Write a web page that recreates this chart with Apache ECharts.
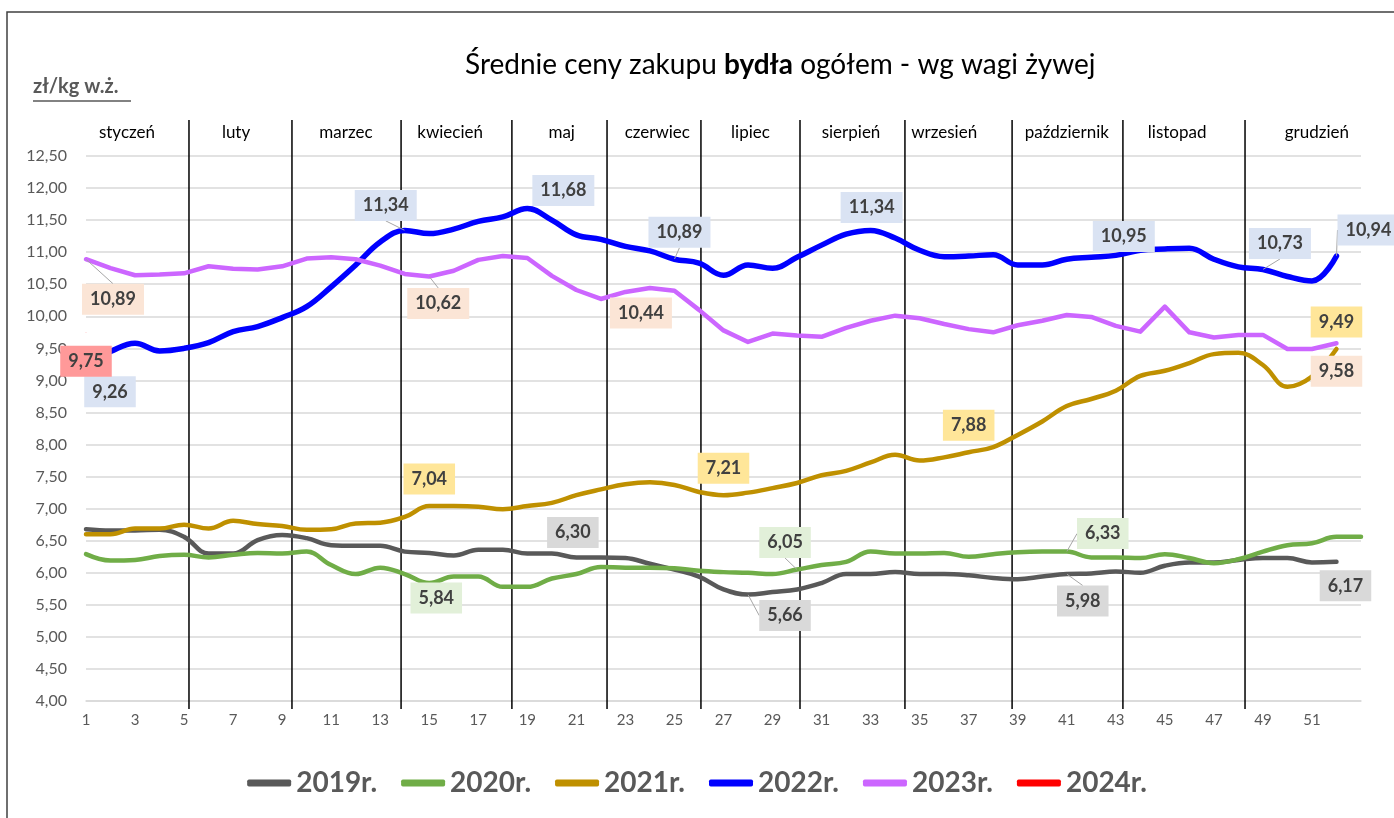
<!DOCTYPE html>
<html>
<head>
<meta charset="utf-8">
<title>Średnie ceny zakupu bydła</title>
<script src="https://cdn.jsdelivr.net/npm/echarts@6/dist/echarts.min.js"></script>
<style>
  html, body { margin: 0; padding: 0; background: #fff; }
  #chart { width: 1394px; height: 818px; }
</style>
</head>
<body>
<div id="chart"></div>
<script>
// tygodnie roku
let weeks = [1, 2, 3, 4, 5, 6, 7, 8, 9, 10, 11, 12, 13, 14, 15, 16, 17, 18, 19, 20,
             21, 22, 23, 24, 25, 26, 27, 28, 29, 30, 31, 32, 33, 34, 35, 36, 37, 38, 39, 40,
             41, 42, 43, 44, 45, 46, 47, 48, 49, 50, 51, 52, 53];

// ceny zł/kg w.ż.
let y2019 = [6.68, 6.66, 6.66, 6.67, 6.56, 6.30, 6.30, 6.51, 6.59, 6.54, 6.43, 6.42, 6.42, 6.33, 6.31, 6.27, 6.36,
             6.36, 6.30, 6.30, 6.24, 6.24, 6.23, 6.14, 6.05, 5.94, 5.74, 5.66, 5.70, 5.74, 5.84, 5.98, 5.98, 6.01,
             5.98, 5.98, 5.96, 5.92, 5.90, 5.94, 5.98, 5.99, 6.02, 6.00, 6.11, 6.16, 6.16, 6.20, 6.23, 6.23, 6.16, 6.17];
let y2020 = [6.29, 6.19, 6.20, 6.26, 6.28, 6.24, 6.28, 6.31, 6.30, 6.33, 6.12, 5.98, 6.08, 5.98, 5.84, 5.94, 5.94,
             5.78, 5.78, 5.91, 5.98, 6.09, 6.08, 6.08, 6.07, 6.03, 6.01, 6.00, 5.98, 6.05, 6.12, 6.17, 6.33, 6.30,
             6.30, 6.31, 6.25, 6.29, 6.32, 6.33, 6.33, 6.24, 6.24, 6.23, 6.29, 6.23, 6.15, 6.21, 6.33, 6.43, 6.46,
             6.56, 6.56];
let y2021 = [6.60, 6.60, 6.69, 6.69, 6.75, 6.69, 6.81, 6.76, 6.73, 6.67, 6.68, 6.77, 6.78, 6.87, 7.04, 7.04, 7.03,
             6.99, 7.04, 7.09, 7.21, 7.30, 7.38, 7.41, 7.37, 7.26, 7.21, 7.25, 7.32, 7.40, 7.52, 7.59, 7.72, 7.84,
             7.75, 7.80, 7.88, 7.96, 8.15, 8.36, 8.60, 8.71, 8.84, 9.07, 9.15, 9.27, 9.41, 9.43, 9.24, 8.90, 9.06, 9.49];
let y2022 = [9.26, 9.45, 9.58, 9.46, 9.50, 9.59, 9.76, 9.84, 9.98, 10.15, 10.46, 10.80, 11.16, 11.34, 11.29, 11.36,
             11.48, 11.55, 11.68, 11.50, 11.27, 11.20, 11.09, 11.02, 10.89, 10.83, 10.64, 10.80, 10.75, 10.92, 11.11,
             11.28, 11.34, 11.22, 11.03, 10.93, 10.94, 10.96, 10.80, 10.80, 10.89, 10.92, 10.95, 11.03, 11.05, 11.06,
             10.89, 10.77, 10.73, 10.62, 10.55, 10.94];
let y2023 = [10.89, 10.75, 10.64, 10.65, 10.67, 10.78, 10.74, 10.73, 10.78, 10.90, 10.92, 10.89, 10.79, 10.66, 10.62,
             10.71, 10.88, 10.94, 10.91, 10.63, 10.41, 10.27, 10.38, 10.44, 10.40, 10.10, 9.78, 9.60, 9.73, 9.70, 9.68,
             9.82, 9.93, 10.01, 9.97, 9.88, 9.80, 9.75, 9.86, 9.93, 10.02, 9.99, 9.85, 9.76, 10.15, 9.75, 9.67, 9.71,
             9.71, 9.49, 9.49, 9.58];
let y2024 = [9.75];

let seriesNames = ['2019r.', '2020r.', '2021r.', '2022r.', '2023r.', '2024r.'];

// miesiące: granice (w tygodniach) i środki podpisów
let monthNames = ['styczeń', 'luty', 'marzec', 'kwiecień', 'maj', 'czerwiec', 'lipiec', 'sierpień', 'wrzesień',
                  'październik', 'listopad', 'grudzień'];
let monthBreaks = [5.2, 9.4, 13.85, 18.37, 22.25, 26.08, 30.12, 34.4, 38.77, 43.29, 48.27];
let monthCenters = [2.67, 7.12, 11.6, 15.85, 20.4, 24.3, 28.1, 32.2, 36.0, 41.0, 45.5, 51.2];

// etykiety danych: tydzień -> [dx, dy, linia odniesienia]
let labels2019 = {20: [21, -21], 28: [37, 21, true], 41: [16, 27, true], 52: [9, 24]};
let labels2020 = {15: [7, 15], 30: [-12, -27, true], 41: [36, -18, true]};
let labels2021 = {15: [0, -27], 27: [0, -27], 37: [0, -27], 52: [0, -27]};
let labels2022 = {1: [24, 28], 14: [-19, -25, true], 19: [36, -18], 25: [5, -27, true], 33: [1, -23],
                  43: [8, -19], 49: [17, -26, true], 52: [32, -26, true]};
let labels2023 = {1: [27, 40, true], 15: [9, 27, true], 24: [-9, 25], 52: [0, 28]};
let labels2024 = {1: [0, 29]};

let FONT = 'Lato, "Noto Sans", sans-serif';

function fmt(v) {
  return v.toFixed(2).replace('.', ',');
}

function makeSeries(name, values, color, width, smooth, labels, labelBg) {
  return {
    name: name,
    type: 'line',
    smooth: smooth,
    symbol: 'none',
    color: color,
    lineStyle: {width: width, color: color, cap: 'round', join: 'round'},
    emphasis: {disabled: true},
    data: values.map(function (v, i) {
      let w = weeks[i];
      if (!labels[w]) {
        return [w, v];
      }
      return {
        value: [w, v],
        symbol: 'circle',
        symbolSize: 0.5,
        label: {show: true},
        labelLine: {show: !!labels[w][2]}
      };
    }),
    label: {
      position: 'inside',
      formatter: function (p) {
        return fmt(p.value[1]);
      },
      backgroundColor: labelBg,
      color: '#404040',
      fontWeight: 'bold',
      fontSize: 18,
      fontFamily: FONT,
      padding: [7, 8, 6, 8]
    },
    labelLine: {show: true, lineStyle: {color: '#a6a6a6', width: 1}},
    labelLayout: function (p) {
      let o = labels[weeks[p.dataIndex]];
      return o ? {dx: o[0], dy: o[1]} : {};
    }
  };
}

let series = [
  makeSeries(seriesNames[0], y2019, '#595959', 4.5, 0.4, labels2019, '#d9d9d9'),
  makeSeries(seriesNames[1], y2020, '#70ad47', 4.5, 0.4, labels2020, '#e2f0d9'),
  makeSeries(seriesNames[2], y2021, '#bf9000', 4.5, 0.4, labels2021, '#ffe699'),
  makeSeries(seriesNames[3], y2022, '#0000ff', 5.5, 0.4, labels2022, '#dae3f3'),
  makeSeries(seriesNames[4], y2023, '#cc66ff', 4.5, false, labels2023, '#fbe5d6'),
  makeSeries(seriesNames[5], y2024, '#ff0000', 4.5, false, labels2024, '#ff9999')
];

// pionowe linie oddzielające miesiące
series.push({
  type: 'custom',
  silent: true,
  clip: false,
  data: monthBreaks.map(function (w) { return [w, 4]; }),
  renderItem: function (params, api) {
    let top = api.coord([api.value(0), 12.5]);
    let bottom = api.coord([api.value(0), 4]);
    return {
      type: 'line',
      shape: {x1: top[0], y1: top[1] - 36, x2: bottom[0], y2: bottom[1] + 8},
      style: {stroke: '#000', lineWidth: 1.5}
    };
  },
  z: 1
});

// nazwy miesięcy
series.push({
  type: 'custom',
  silent: true,
  clip: false,
  data: monthCenters.map(function (w) { return [w, 12.5]; }),
  renderItem: function (params, api) {
    let p = api.coord([api.value(0), 12.5]);
    return {
      type: 'text',
      x: p[0],
      y: p[1] - 23,
      style: {
        text: monthNames[params.dataIndex],
        fill: '#000',
        fontSize: 17,
        fontFamily: FONT,
        align: 'center',
        verticalAlign: 'middle'
      }
    };
  }
});

let option = {
  backgroundColor: '#fff',
  animation: false,
  title: {
    text: '{a|Średnie ceny zakupu }{b|bydła}{a| ogółem - wg wagi żywej}',
    left: 460,
    top: 46,
    textStyle: {
      fontWeight: 'normal',
      rich: {
        a: {fontSize: 28, color: '#000', fontWeight: 'normal', fontFamily: FONT},
        b: {fontSize: 28, color: '#000', fontWeight: 'bold', fontFamily: FONT}
      }
    }
  },
  legend: {
    data: seriesNames,
    left: 'center',
    bottom: 16,
    icon: 'roundRect',
    itemWidth: 44,
    itemHeight: 7,
    itemGap: 24,
    textStyle: {fontSize: 28, fontWeight: 'bold', color: '#595959', fontFamily: FONT}
  },
  grid: {left: 86, right: 33, top: 156, bottom: 117},
  xAxis: {
    type: 'value',
    min: 1,
    max: 53,
    interval: 1,
    axisLine: {lineStyle: {color: '#d9d9d9', width: 1.5}},
    axisTick: {show: false},
    splitLine: {show: false},
    axisLabel: {
      margin: 12,
      fontSize: 15,
      color: '#595959',
      fontFamily: FONT,
      formatter: function (v) {
        return (v % 2 === 1 && v <= 51) ? String(v) : '';
      }
    }
  },
  yAxis: {
    type: 'value',
    min: 4,
    max: 12.5,
    interval: 0.5,
    axisLine: {show: false},
    axisTick: {show: false},
    splitLine: {lineStyle: {color: '#d9d9d9', width: 1.5}},
    axisLabel: {
      margin: 19,
      fontSize: 16,
      color: '#595959',
      fontFamily: FONT,
      formatter: function (v) {
        return fmt(v);
      }
    }
  },
  graphic: [
    {
      type: 'rect',
      silent: true,
      shape: {x: 7, y: 12, width: 1420, height: 830},
      style: {fill: 'none', stroke: '#404040', lineWidth: 1.5}
    },
    {
      type: 'text',
      left: 33,
      top: 77,
      style: {text: 'zł/kg w.ż.', fill: '#595959', fontSize: 20, fontWeight: 'bold', fontFamily: FONT}
    },
    {
      type: 'line',
      silent: true,
      shape: {x1: 33, y1: 101, x2: 131, y2: 101},
      style: {stroke: '#595959', lineWidth: 1.5}
    }
  ],
  series: series
};

let myChart = echarts.init(document.getElementById('chart'));
myChart.setOption(option);
</script>
</body>
</html>
